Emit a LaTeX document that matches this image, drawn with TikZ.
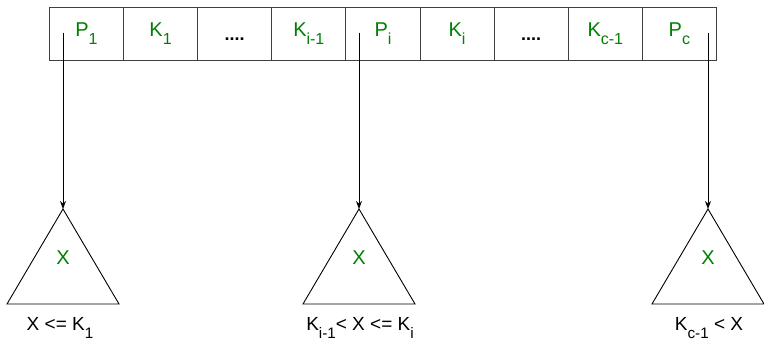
\documentclass[tikz,border=0pt]{standalone}
\usepackage{fontspec}
\setmainfont{Liberation Sans}
\usetikzlibrary{arrows.meta}
\definecolor{txtgreen}{RGB}{0,128,0}
\makeatletter
\newcommand\sbs[1]{\raisebox{-0.4em}{\fontsize{\dimexpr 0.8\dimexpr\f@size pt\relax\relax}{0pt}\selectfont #1}}
\makeatother
\begin{document}
\begin{tikzpicture}[x=1pt,y=1pt,
  cell/.style={draw=black!75, line width=0.9pt, minimum width=74.11pt, minimum height=53pt, inner sep=0pt, anchor=north west, text=txtgreen, font=\fontsize{20}{22}\selectfont},
  dots/.style={text=black, font=\fontsize{18}{20}\selectfont\bfseries, text height=16pt, text depth=2pt},
  lbl/.style={font=\fontsize{19}{21}\selectfont, text=black, inner sep=0pt},
  xlbl/.style={font=\fontsize{20}{22}\selectfont, text=txtgreen, inner sep=0pt},
  tri/.style={draw=black, line width=0.9pt},
  ptr/.style={draw=black, line width=0.9pt, -{Stealth[length=8pt,width=6pt]}}
]
\useasboundingbox (0,0) rectangle (764,-344);
\node[cell] (c1) at (49,-7) {P\sbs{1}};
\node[cell] (c2) at (123.11,-7) {K\sbs{1}};
\node[cell,dots] (c3) at (197.22,-7) {....};
\node[cell] (c4) at (271.33,-7) {K\sbs{i-1}};
\node[cell] (c5) at (345.44,-7) {P\sbs{i}};
\node[cell] (c6) at (419.56,-7) {K\sbs{i}};
\node[cell,dots] (c7) at (493.67,-7) {....};
\node[cell] (c8) at (567.78,-7) {K\sbs{c-1}};
\node[cell] (c9) at (641.89,-7) {P\sbs{c}};
% pointer starts
\coordinate (s1) at (63,-33);
\coordinate (s2) at (359,-33);
\coordinate (s3) at (708,-33);
% triangle apexes
\coordinate (t1) at (63,-209);
\coordinate (t2) at (359,-209);
\coordinate (t3) at (708,-209);
\foreach \i in {1,2,3}{
  \draw[tri] (t\i) -- ++(-56,-95) -- ++(112,0) -- cycle;
  \draw[ptr] (s\i) -- (t\i);
}
\node[xlbl] (x1) at (63,-258) {X};
\node[xlbl] (x2) at (359,-258) {X};
\node[xlbl] (x3) at (708,-258) {X};
\node[lbl] (l1) at (60,-328) {X <= K\sbs{1}};
\node[lbl] (l2) at (360,-328) {K\sbs{i-1}< X <= K\sbs{i}};
\node[lbl] (l3) at (709,-328) {K\sbs{c-1} < X};
\end{tikzpicture}
\end{document}
